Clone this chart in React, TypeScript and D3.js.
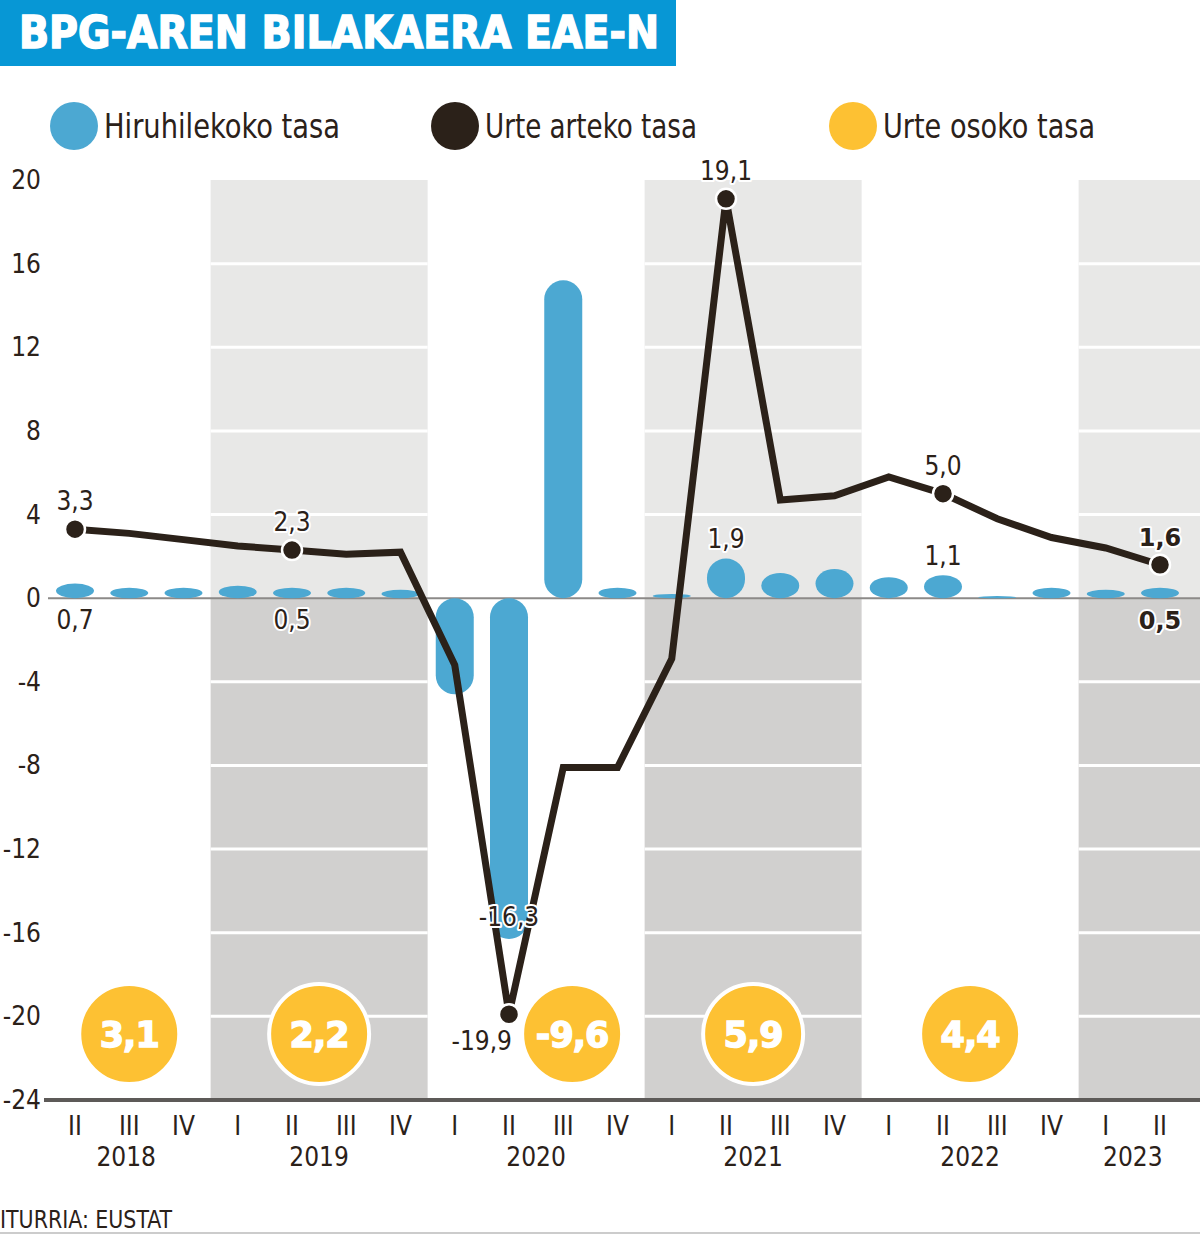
import * as d3 from 'd3'

// Quarters shown on the x axis (2018 II .. 2023 II)
const quarterNames = ['II', 'III', 'IV', 'I', 'II', 'III', 'IV', 'I', 'II', 'III', 'IV', 'I', 'II', 'III', 'IV', 'I', 'II', 'III', 'IV', 'I', 'II']
const quarterYears = [2018, 2018, 2018, 2019, 2019, 2019, 2019, 2020, 2020, 2020, 2020, 2021, 2021, 2021, 2021, 2022, 2022, 2022, 2022, 2023, 2023]

// Hiruhilekoko tasa (quarter on quarter, %)
const quarterlyRate = [0.7, 0.5, 0.5, 0.6, 0.5, 0.5, 0.4, -4.6, -16.3, 15.2, 0.5, 0.2, 1.9, 1.2, 1.4, 1.0, 1.1, 0.1, 0.5, 0.4, 0.5]
// Urte arteko tasa (year on year, %)
const yearlyRate = [3.3, 3.1, 2.8, 2.5, 2.3, 2.1, 2.2, -3.2, -19.9, -8.1, -8.1, -2.9, 19.1, 4.7, 4.9, 5.8, 5.0, 3.8, 2.9, 2.4, 1.6]

// Urte osoko tasa (annual, %)
const annualYears = [2018, 2019, 2020, 2021, 2022]
const annualRate = [3.1, 2.2, -9.6, 5.9, 4.4]

const yTicks = [20, 16, 12, 8, 4, 0, -4, -8, -12, -16, -20, -24]
const shadedYears = [2019, 2021, 2023]

const BLUE = '#4ca8d2'
const DARK = '#2b2119'
const YELLOW = '#fdc133'
const BAND_HI = '#e8e8e7'
const BAND_LO = '#d1d0cf'
const FONT = '"Liberation Sans Narrow", "DejaVu Sans Condensed", Roboto, sans-serif'
const HEAVY = '"DejaVu Sans", "Liberation Sans", sans-serif'

const fmt = (v: number) => v.toFixed(1).replace('.', ',')

export default function App() {
  const W = 1200
  const H = 1234
  const idx = quarterNames.map((_, i) => i)
  const x = d3.scalePoint<number>().domain(idx).range([75, 1160])
  const step = x.step()
  const y = d3.scaleLinear().domain([-24, 20]).range([1100, 180])
  const barW = 38
  const lastYear = quarterYears[quarterYears.length - 1]

  const line = d3.line<number>().x((_, i) => x(i)!).y((d) => y(d))

  const yearCenter = (yr: number) => {
    const xs = idx.filter((i) => quarterYears[i] === yr).map((i) => x(i)!)
    return (d3.min(xs)! + d3.max(xs)!) / 2
  }
  const bandFor = (yr: number) => {
    const xs = idx.filter((i) => quarterYears[i] === yr).map((i) => x(i)!)
    return [d3.min(xs)! - step / 2, yr === lastYear ? W : d3.max(xs)! + step / 2]
  }

  const labelled = idx.filter((i) => quarterNames[i] === 'II')
  const last = idx.length - 1
  const halo = { stroke: '#fff', strokeWidth: 4, paintOrder: 'stroke' as const, strokeLinejoin: 'round' as const }

  return (
    <div style={{ position: 'absolute', left: 0, top: 0 }}>
      <svg width={W} height={H} style={{ display: 'block' }}>
        <rect width={W} height={H} fill="#fff" />
        {/* title */}
        <rect x={0} y={0} width={676} height={66} fill="#0797d5" />
        <text x={19} y={48} fill="#fff" stroke="#fff" strokeWidth={1.6} fontFamily={HEAVY} fontWeight={900} fontSize={45} textLength={640} lengthAdjust="spacingAndGlyphs">
          BPG-AREN BILAKAERA EAE-N
        </text>

        {/* legend */}
        {[
          { c: BLUE, t: 'Hiruhilekoko tasa', x: 74, w: 236 },
          { c: DARK, t: 'Urte arteko tasa', x: 455, w: 212 },
          { c: YELLOW, t: 'Urte osoko tasa', x: 853, w: 212 },
        ].map((d) => (
          <g key={d.t}>
            <circle cx={d.x} cy={126} r={24} fill={d.c} />
            <text x={d.x + 30} y={138} fontFamily={FONT} fontSize={34} fill={DARK} textLength={d.w} lengthAdjust="spacingAndGlyphs">
              {d.t}
            </text>
          </g>
        ))}

        {/* shaded year bands */}
        {shadedYears.map((yr) => {
          const [x0, x1] = bandFor(yr)
          return (
            <g key={yr}>
              <rect x={x0} y={y(20)} width={x1 - x0} height={y(0) - y(20)} fill={BAND_HI} />
              <rect x={x0} y={y(0)} width={x1 - x0} height={y(-24) - y(0)} fill={BAND_LO} />
              {yTicks
                .filter((t) => t !== 0 && t !== 20 && t !== -24)
                .map((t) => (
                  <line key={t} x1={x0} x2={x1} y1={y(t)} y2={y(t)} stroke="#fff" strokeWidth={3} />
                ))}
            </g>
          )
        })}

        {/* y axis labels */}
        {yTicks.map((t) => (
          <text key={t} x={41} y={y(t) + 9} textAnchor="end" fontFamily={FONT} fontSize={26} fill={DARK}>
            {t}
          </text>
        ))}

        {/* zero line */}
        <line x1={48} x2={W} y1={y(0)} y2={y(0)} stroke="#8c8a88" strokeWidth={2} />

        {/* quarterly bars */}
        {quarterlyRate.map((v, i) => {
          const h = Math.abs(y(v) - y(0))
          const top = v >= 0 ? y(v) : y(0)
          return (
            <rect key={i} x={x(i)! - barW / 2} y={top} width={barW} height={h} rx={barW / 2} ry={Math.min(barW / 2, h / 2)} fill={BLUE} />
          )
        })}

        {/* annual circles */}
        {annualYears.map((yr, i) => {
          const cx = yearCenter(yr) + (annualRate[i] < 0 ? 36 : 0)
          return (
            <g key={yr}>
              <circle cx={cx} cy={1034} r={50} fill={YELLOW} stroke="#fff" strokeWidth={4} />
              <text x={cx} y={1047} textAnchor="middle" fontFamily={HEAVY} fontWeight={900} fontSize={35} fill="#fff" stroke="#fff" strokeWidth={1.4} letterSpacing={-1}>
                {fmt(annualRate[i])}
              </text>
            </g>
          )
        })}

        {/* year-on-year line */}
        <path d={line(yearlyRate) ?? ''} fill="none" stroke={DARK} strokeWidth={7} strokeLinejoin="miter" />
        {labelled.map((i) => (
          <circle key={i} cx={x(i)} cy={y(yearlyRate[i])} r={10} fill={DARK} stroke="#fff" strokeWidth={2.5} />
        ))}

        {/* labels */}
        {labelled.map((i) => {
          const v = yearlyRate[i]
          const neg = v < 0
          return (
            <text
              key={'y' + i}
              x={neg ? x(i)! + 3 : x(i)}
              y={neg ? y(v) + 36 : y(v) - 19}
              textAnchor={neg ? 'end' : 'middle'}
              fontFamily={i === last ? HEAVY : FONT}
              fontWeight={i === last ? 700 : 400}
              fontSize={i === last ? 24 : 26}
              fill={DARK}
              {...halo}
            >
              {fmt(v)}
            </text>
          )
        })}
        {labelled.map((i) => {
          const v = quarterlyRate[i]
          let ty = y(0) + 31
          if (v >= 1) ty = y(v) - 10
          else if (v < 0) ty = y(v) - 13
          return (
            <text
              key={'q' + i}
              x={x(i)}
              y={ty}
              textAnchor="middle"
              fontFamily={i === last ? HEAVY : FONT}
              fontWeight={i === last ? 700 : 400}
              fontSize={i === last ? 24 : 26}
              fill={DARK}
              {...halo}
            >
              {fmt(v)}
            </text>
          )
        })}

        {/* x axis */}
        <line x1={44} x2={W} y1={y(-24)} y2={y(-24)} stroke="#5d5a58" strokeWidth={4} />
        {quarterNames.map((q, i) => (
          <text key={i} x={x(i)} y={1135} textAnchor="middle" fontFamily={FONT} fontSize={26} fill={DARK}>
            {q}
          </text>
        ))}
        {Array.from(new Set(quarterYears)).map((yr) => (
          <text key={yr} x={yearCenter(yr) - (yr === quarterYears[0] ? 3 : 0)} y={1166} textAnchor="middle" fontFamily={FONT} fontSize={26} fill={DARK}>
            {yr}
          </text>
        ))}

        {/* source */}
        <text x={0} y={1228} fontFamily={FONT} fontSize={24} fill={DARK} textLength={172} lengthAdjust="spacingAndGlyphs">
          ITURRIA: EUSTAT
        </text>
        <line x1={0} x2={W} y1={1233} y2={1233} stroke="#999" strokeWidth={1} />
      </svg>
    </div>
  )
}
